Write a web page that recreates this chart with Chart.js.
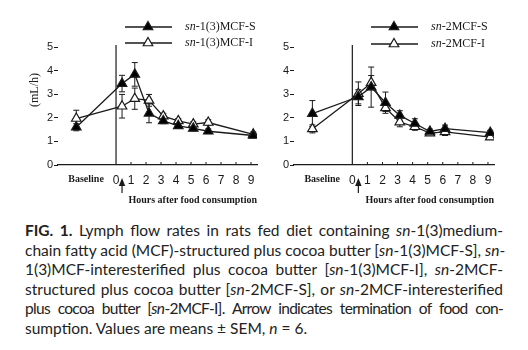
<!DOCTYPE html>
<html><head><meta charset="utf-8">
<script src="https://cdn.jsdelivr.net/npm/chart.js@4"></script>
<style>
html,body{margin:0;padding:0;background:#fff;width:528px;height:350px;overflow:hidden}
canvas{position:absolute;top:0}
#c1{left:0}
#c2{left:264px}
#cap{position:absolute;left:25px;top:221px;width:478px;font-family:Lato,"Noto Sans",sans-serif;font-size:15.5px;line-height:19.5px;color:#222}
#cap div{text-align:justify;text-align-last:justify;white-space:nowrap}
#cap div.tight{letter-spacing:-0.7px}
#cap div.last{text-align:left;text-align-last:left}
</style></head>
<body>
<canvas id="c1" width="264" height="215"></canvas>
<canvas id="c2" width="264" height="215"></canvas>
<div id="cap">
<div><b>FIG. 1.</b> Lymph flow rates in rats fed diet containing <i>sn</i>-1(3)medium-</div>
<div>chain fatty acid (MCF)-structured plus cocoa butter [<i>sn</i>-1(3)MCF-S], <i>sn</i>-</div>
<div>1(3)MCF-interesterified plus cocoa butter [<i>sn</i>-1(3)MCF-I], <i>sn</i>-2MCF-</div>
<div>structured plus cocoa butter [<i>sn</i>-2MCF-S], or <i>sn</i>-2MCF-interesterified</div>
<div class="tight">plus cocoa butter [<i>sn</i>-2MCF-I]. Arrow indicates termination of food con-</div>
<div class="last">sumption. Values are means ± SEM, <i>n</i> = 6.</div>
</div>
<script>
// x positions (hours after food consumption; first = baseline sample)
const timePoints = [-2.65, 0.4, 1.25, 2.2, 3.15, 4.15, 5.15, 6.15, 9.15];
const xTickValues = [-2, 0, 1, 2, 3, 4, 5, 6, 7, 8, 9];
const xTickLabels = ['Baseline', '0', '1', '2', '3', '4', '5', '6', '7', '8', '9'];
const yTickValues = [0, 1, 2, 3, 4, 5];
const arrowHour = 0.4;

// Left panel
const sn13S = [1.6, 3.45, 3.84, 2.19, 1.87, 1.66, 1.55, 1.43, 1.25];
const sn13S_sem = [0.15, 0.35, 0.5, 0.4, 0.12, 0.1, 0.1, 0.1, 0.1];
const sn13I = [1.97, 2.49, 2.81, 2.74, 2.07, 1.87, 1.73, 1.8, 1.3];
const sn13I_sem = [0.35, 0.5, 0.45, 0.25, 0.12, 0.1, 0.1, 0.12, 0.1];

// Right panel
const sn2S = [2.18, 2.89, 3.3, 2.64, 2.1, 1.76, 1.42, 1.54, 1.37];
const sn2S_sem = [0.55, 0.3, 0.85, 0.45, 0.2, 0.2, 0.1, 0.15, 0.1];
const sn2I = [1.53, 3.02, 3.49, 2.42, 1.82, 1.62, 1.35, 1.4, 1.18];
const sn2I_sem = [0.17, 0.5, 0.3, 0.15, 0.2, 0.15, 0.1, 0.15, 0.1];

const INK = '#1a1a1a';
const SERIF = '"Liberation Serif","Times New Roman",serif';
const SANS = '"Liberation Sans",Arial,sans-serif';

function tri(ctx, x, y, r, fill) {
  ctx.beginPath();
  for (let k = 0; k < 3; k++) {
    const a = k * 2 * Math.PI / 3;
    const px = x + Math.sin(a) * r, py = y - Math.cos(a) * r;
    if (k === 0) ctx.moveTo(px, py); else ctx.lineTo(px, py);
  }
  ctx.closePath();
  ctx.fillStyle = fill; ctx.fill();
  ctx.lineWidth = 1.2; ctx.strokeStyle = INK; ctx.stroke();
}

const errorBars = {
  id: 'errorBars',
  beforeDatasetsDraw(chart) {
    const ctx = chart.ctx, xs = chart.scales.x, ys = chart.scales.y;
    ctx.save();
    ctx.strokeStyle = INK; ctx.lineWidth = 1;
    chart.data.datasets.forEach(ds => {
      ds.data.forEach((p, i) => {
        const e = ds.sem[i];
        const px = xs.getPixelForValue(p.x);
        const top = ys.getPixelForValue(p.y + e), bot = ys.getPixelForValue(p.y - e);
        ctx.beginPath();
        ctx.moveTo(px, top); ctx.lineTo(px, bot);
        ctx.moveTo(px - 3, top); ctx.lineTo(px + 3, top);
        ctx.moveTo(px - 3, bot); ctx.lineTo(px + 3, bot);
        ctx.stroke();
      });
    });
    ctx.restore();
  }
};

const decorations = {
  id: 'decorations',
  afterDraw(chart, args, o) {
    const ctx = chart.ctx, xs = chart.scales.x, ys = chart.scales.y, ca = chart.chartArea;
    ctx.save();
    ctx.strokeStyle = INK; ctx.fillStyle = INK;
    // vertical line at time 0
    const x0 = xs.getPixelForValue(0);
    ctx.lineWidth = 1.2;
    ctx.beginPath(); ctx.moveTo(x0, ca.top - 2); ctx.lineTo(x0, ca.bottom); ctx.stroke();
    // upward tick marks
    ctx.lineWidth = 1;
    xTickValues.forEach(v => {
      if (v <= 0) return;
      const px = xs.getPixelForValue(v);
      ctx.beginPath(); ctx.moveTo(px, ca.bottom); ctx.lineTo(px, ca.bottom - 3); ctx.stroke();
    });
    // arrow
    const xa = xs.getPixelForValue(arrowHour);
    ctx.beginPath(); ctx.moveTo(xa, ca.bottom + 13); ctx.lineTo(xa - 3.2, ca.bottom + 21); ctx.lineTo(xa + 3.2, ca.bottom + 21); ctx.closePath(); ctx.fill();
    ctx.lineWidth = 1.2;
    ctx.beginPath(); ctx.moveTo(xa, ca.bottom + 20); ctx.lineTo(xa, ca.bottom + 28); ctx.stroke();
    // x caption
    ctx.font = 'bold 10px ' + SERIF;
    ctx.textAlign = 'right'; ctx.textBaseline = 'middle';
    ctx.fillText('Hours after food consumption', ca.right, ca.bottom + 35);
    // y title
    if (o.yTitle) {
      ctx.save();
      ctx.translate(35, 90); ctx.rotate(-Math.PI / 2);
      ctx.font = '12px ' + SERIF; ctx.textAlign = 'center'; ctx.textBaseline = 'middle';
      ctx.fillText(o.yTitle, 0, 0);
      ctx.restore();
    }
    // legend
    chart.data.datasets.forEach((ds, i) => {
      const y = o.legendY[i];
      ctx.strokeStyle = INK; ctx.lineWidth = 1.3;
      ctx.beginPath(); ctx.moveTo(o.legendX, y); ctx.lineTo(o.legendX + 47, y); ctx.stroke();
      tri(ctx, o.legendX + 23, y, 5.5, ds.pointBackgroundColor);
      ctx.fillStyle = INK;
      ctx.textAlign = 'left'; ctx.textBaseline = 'middle';
      ctx.font = 'italic 12px ' + SERIF;
      ctx.fillText('sn', o.legendX + 60, y);
      const w = ctx.measureText('sn').width;
      ctx.font = '12px ' + SERIF;
      ctx.fillText(ds.label.replace(/^sn/, ''), o.legendX + 60 + w, y);
    });
    ctx.restore();
  }
};

function pts(vals) { return vals.map((v, i) => ({ x: timePoints[i], y: v })); }

function makePanel(id, labels, sVals, sSem, iVals, iSem, yWidth, padRight, deco) {
  return new Chart(document.getElementById(id), {
    type: 'line',
    data: {
      datasets: [
        { label: labels[0], data: pts(sVals), sem: sSem, borderColor: INK, borderWidth: 1.3,
          pointStyle: 'triangle', pointRadius: 5.5, pointBorderWidth: 1.2,
          pointBackgroundColor: '#000', pointBorderColor: INK, tension: 0 },
        { label: labels[1], data: pts(iVals), sem: iSem, borderColor: INK, borderWidth: 1.3,
          pointStyle: 'triangle', pointRadius: 5.5, pointBorderWidth: 1.2,
          pointBackgroundColor: '#fff', pointBorderColor: INK, tension: 0 }
      ]
    },
    options: {
      responsive: false, animation: false, devicePixelRatio: 1,
      layout: { padding: { left: 0, right: padRight, top: 47, bottom: 0 } },
      plugins: { legend: { display: false }, tooltip: { enabled: false }, decorations: deco },
      scales: {
        x: {
          type: 'linear', min: -3.87, max: 9.4,
          afterBuildTicks: s => { s.ticks = xTickValues.map(v => ({ value: v })); },
          afterFit: s => { s.height = 50; },
          grid: { display: false, drawTicks: false },
          border: { display: true, color: INK, width: 1.2 },
          ticks: {
            autoSkip: false, maxRotation: 0, padding: 8, color: INK,
            callback: v => xTickLabels[xTickValues.indexOf(v)],
            font: c => (c.tick && c.tick.value === -2) ? { family: SERIF, size: 10, weight: 'bold' } : { family: SANS, size: 12 }
          }
        },
        y: {
          min: 0, max: 5,
          afterBuildTicks: s => { s.ticks = yTickValues.map(v => ({ value: v })); },
          afterFit: s => { s.width = yWidth; },
          grid: { display: true, drawOnChartArea: false, drawTicks: true, tickLength: 4, color: INK, lineWidth: 1 },
          border: { display: false },
          ticks: { padding: 1, color: INK, font: { family: SANS, size: 11 } }
        }
      }
    },
    plugins: [errorBars, decorations]
  });
}

makePanel('c1', ['sn-1(3)MCF-S', 'sn-1(3)MCF-I'], sn13S, sn13S_sem, sn13I, sn13I_sem, 58, 7,
  { yTitle: '(mL/h)', legendX: 125, legendY: [27, 43] });
makePanel('c2', ['sn-2MCF-S', 'sn-2MCF-I'], sn2S, sn2S_sem, sn2I, sn2I_sem, 30, 34,
  { yTitle: null, legendX: 107, legendY: [27, 44] });
</script>
</body></html>
